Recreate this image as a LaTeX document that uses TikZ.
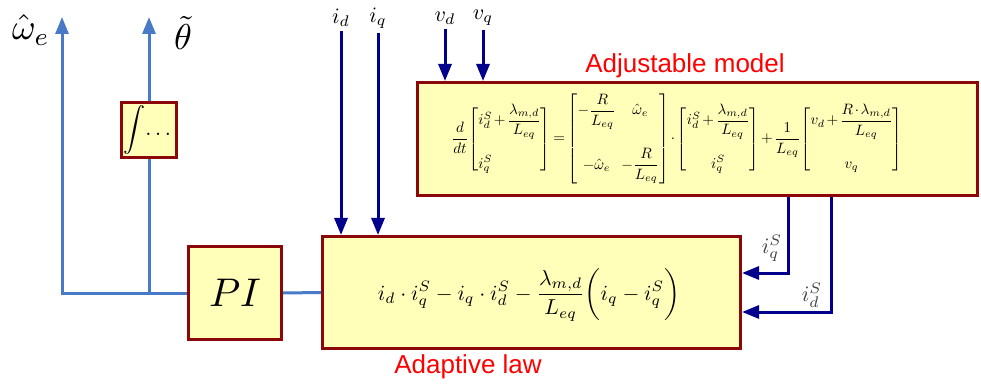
\documentclass[tikz,border=0pt]{standalone}
\usepackage{amsmath, mathtools}
\usepackage{graphicx}
\usepackage{fontspec}
\newfontfamily\labelfont{Liberation Sans}
\usepackage{xcolor}
\definecolor{frame}{RGB}{140,8,8}
\definecolor{boxfill}{RGB}{255,255,185}
\definecolor{flowblue}{RGB}{72,122,200}
\definecolor{navy}{RGB}{0,0,140}
\definecolor{capred}{RGB}{255,0,0}
\usepackage{tikz}
\usetikzlibrary{arrows.meta, positioning, calc}

\begin{document}
\begin{tikzpicture}[x=1pt, y=-1pt,
    block/.style={draw=frame, fill=boxfill, line width=3pt, inner sep=0pt},
    flowline/.style={flowblue, line width=3pt},
    flowarrow/.style={flowline, -{Triangle[length=17pt,width=13pt]}},
    sigline/.style={navy, line width=3pt, -{Triangle[length=17pt,width=13pt]}},
    sym/.style={inner sep=1pt},
    boxtitle/.style={text=capred, anchor=base, inner sep=0pt, font=\labelfont\fontsize{26}{30}\selectfont}]
    \useasboundingbox (0,0) rectangle (981,387);

    % blocks
    \node[block, minimum width=560pt, minimum height=113pt] (adj) at (697.5,139) {};
    \node[block, minimum width=418pt, minimum height=112pt] (law) at (531.5,292.5) {};
    \node[block, minimum size=93pt] (pi) at (235,293) {\scalebox{4}{$PI$}};
    \node[block, minimum size=55pt] (int) at (149,130) {\scalebox{2.2}{$\displaystyle\int\!\dots$}};

    % equations
    \node (adjeq) at (677,139) {\setlength{\arraycolsep}{2pt}\medmuskip=2mu\thickmuskip=3mu%
      \resizebox{451pt}{!}{$\displaystyle
        \frac{d}{dt}\!\begin{bmatrix*}[l] i_d^S + \dfrac{\lambda_{m,d}}{L_{eq}} \\[17pt] i_q^S \end{bmatrix*}
        = \begin{bmatrix} -\dfrac{R}{L_{eq}} & \hat{\omega}_e \\[19pt] -\hat{\omega}_e & -\dfrac{R}{L_{eq}} \end{bmatrix}
        \cdot \begin{bmatrix} i_d^S + \dfrac{\lambda_{m,d}}{L_{eq}} \\[17pt] i_q^S \end{bmatrix}
        + \frac{1}{L_{eq}}\!\begin{bmatrix} v_d + \dfrac{R\cdot\lambda_{m,d}}{L_{eq}} \\[17pt] v_q \end{bmatrix}$}};
    \node (laweq) at (529,295) {\resizebox{302pt}{!}{$\displaystyle
        i_d\cdot i_q^S - i_q\cdot i_d^S - \frac{\lambda_{m,d}}{L_{eq}}\bigg(i_q - i_q^S\bigg)$}};

    % titles
    \node[boxtitle] (adjtitle) at (685,73) {Adjustable model};
    \node[boxtitle] (lawtitle) at (468,373) {Adaptive law};

    % outputs
    \node[sym] (omega) at (31,30) {\scalebox{3.6}{$\hat{\omega}_e$}};
    \node[sym] (theta) at (183,33) {\scalebox{3.6}{$\tilde{\theta}$}};
    \coordinate (omegatip) at (62,17);
    \coordinate (thetatip) at (149,17);
    \draw[flowarrow] (pi.west) -| (omegatip);
    \draw[flowline] (int.south) -- (int.south |- pi.west);
    \draw[flowarrow] (int.north) -- (thetatip);
    \draw[flowline] (pi.east) -- (law.west);

    % measured inputs
    \node[sym] (id) at (341,18) {\scalebox{2.2}{$i_d$}};
    \node[sym] (iq) at (378,18) {\scalebox{2.2}{$i_q$}};
    \node[sym] (vd) at (445,18) {\scalebox{2.2}{$v_d$}};
    \node[sym] (vq) at (483,18) {\scalebox{2.2}{$v_q$}};
    \draw[sigline] ([yshift=-3pt]id.south) -- (id.south |- law.north);
    \draw[sigline] ([yshift=-3pt]iq.south) -- (iq.south |- law.north);
    \draw[sigline] ([yshift=-3pt]vd.south) -- (vd.south |- adj.north);
    \draw[sigline] ([yshift=-3pt]vq.south) -- (vq.south |- adj.north);

    % estimated currents back to the law
    \draw[sigline] ([xshift=90.5pt]adj.south) |- ([yshift=19.5pt]law.east);
    \draw[sigline] ([xshift=133.5pt]adj.south) |- ([yshift=-19.5pt]law.east);
    \node[sym, text=black!75] (iqs) at (772,248) {\scalebox{2.2}{$i_q^S$}};
    \node[sym, text=black!75] (ids) at (812,295) {\scalebox{2.2}{$i_d^S$}};
\end{tikzpicture}
\end{document}
